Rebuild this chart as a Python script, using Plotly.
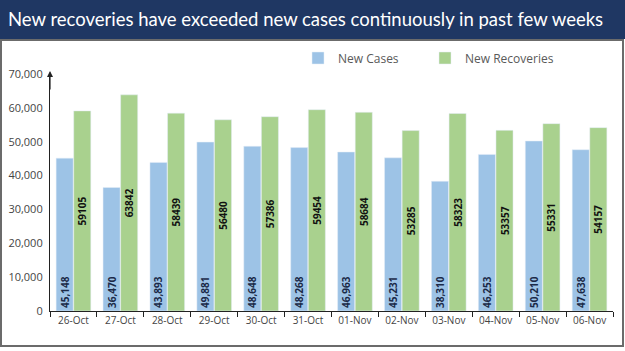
import plotly.graph_objects as go

dates = ["26-Oct", "27-Oct", "28-Oct", "29-Oct", "30-Oct", "31-Oct",
         "01-Nov", "02-Nov", "03-Nov", "04-Nov", "05-Nov", "06-Nov"]
new_cases = [45148, 36470, 43893, 49881, 48648, 48268, 46963, 45231, 38310, 46253, 50210, 47638]
new_recoveries = [59105, 63842, 58439, 56480, 57386, 59454, 58684, 53285, 58323, 53357, 55331, 54157]
y_ticks = [0, 10000, 20000, 30000, 40000, 50000, 60000, 70000]
title = "New recoveries have exceeded new cases continuously in past few weeks"

W, H = 625, 351
L, R, T, B = 50, 12, 74, 40
pw, ph = W - L - R, H - T - B

def px(x):
    return (x - L) / pw

def py(y):
    return (H - B - y) / ph

fig = go.Figure()
fig.add_trace(go.Bar(
    x=dates, y=new_cases, name="New Cases", marker_color="#9DC3E6",
    text=[f"{v:,}" for v in new_cases], textposition="inside",
    insidetextanchor="start", textangle=-90,
    textfont=dict(family="Open Sans", size=10, color="#1b2a48", weight="bold"),
    constraintext="none", legend="legend",
))
fig.add_trace(go.Bar(
    x=dates, y=new_recoveries, name="New Recoveries", marker_color="#A9D18E",
    text=[str(v) for v in new_recoveries], textposition="inside",
    insidetextanchor="middle", textangle=-90,
    textfont=dict(family="Open Sans", size=10, color="#111111", weight="bold"),
    constraintext="none", legend="legend2",
))

shapes = [
    dict(type="rect", xref="paper", yref="paper", x0=px(0), x1=px(W), y0=py(39), y1=py(0),
         fillcolor="#1F3763", line_width=0, layer="below"),
    dict(type="rect", xref="paper", yref="paper", x0=px(1), x1=px(623), y0=py(346), y1=py(40),
         fillcolor="rgba(0,0,0,0)", line=dict(color="#6b6b6b", width=2), layer="below"),
]

annotations = [
    dict(text=title, xref="paper", yref="paper", x=px(6), y=py(19), xanchor="left", yanchor="middle",
         showarrow=False, font=dict(family="Lato", size=18.5, color="white")),
    dict(xref="paper", yref="paper", x=0, y=py(71), ax=0, ay=20,
         showarrow=True, arrowhead=2, arrowsize=1, arrowwidth=1.2, arrowcolor="#222", text=""),
]

leg_common = dict(orientation="h", yanchor="middle", xanchor="left",
                  font=dict(family="Open Sans", size=12, color="#595959"),
                  bgcolor="rgba(0,0,0,0)")

fig.update_layout(
    width=W, height=H, margin=dict(l=L, r=R, t=T, b=B),
    paper_bgcolor="white", plot_bgcolor="white",
    barmode="group", bargap=0.25, bargroupgap=0.03,
    shapes=shapes, annotations=annotations,
    legend=dict(x=px(298), y=py(58), **leg_common),
    legend2=dict(x=px(425), y=py(58), **leg_common),
    showlegend=True,
    font=dict(family="Open Sans"),
)
fig.update_xaxes(showline=True, linecolor="#222", linewidth=1.2, ticks="outside",
                 tickson="boundaries", ticklen=5, tickcolor="#222", automargin=False,
                 tickfont=dict(size=10, color="#444"), showgrid=False)
fig.update_yaxes(range=[0, 70000], tickvals=y_ticks, tickformat=",", showgrid=False,
                 showline=True, linecolor="#222", linewidth=1.2, ticklabelstandoff=4,
                 automargin=False,
                 tickfont=dict(size=11, color="#444"), zeroline=False)

fig.write_html("out.html")
